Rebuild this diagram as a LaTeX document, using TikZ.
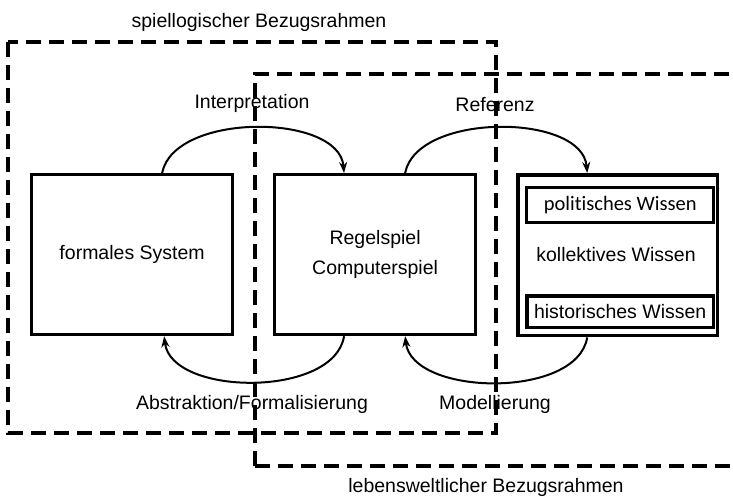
\documentclass[tikz,border=0pt]{standalone}
\usepackage{fontspec}
\setmainfont{Liberation Sans}
\newfontfamily\carlito[Ligatures={NoCommon,NoRequired,NoContextual}]{Carlito}
\usetikzlibrary{arrows.meta,calc}
\begin{document}
\begin{tikzpicture}[x=1pt,y=-1pt,
  frame/.style={line width=3.2pt,dash pattern=on 15pt off 8pt},
  box/.style={draw,line width=3.2pt,minimum width=201pt,minimum height=160pt,inner sep=0pt,anchor=north west,font=\fontsize{19.5}{24}\selectfont,align=center},
  sub/.style={draw,line width=3.4pt,minimum width=187pt,inner sep=0pt,anchor=north west},
  lbl/.style={font=\fontsize{19.5}{23}\selectfont},
  arc/.style={line width=2pt,-{Stealth[length=11pt,width=8pt,inset=3.5pt]}}]
\useasboundingbox (0,0) rectangle (733,497);
% dashed frames
\draw[frame] (8,42) rectangle (496,433);
\draw[frame] (255,466) -- (255,74) -- (740,74);
\draw[frame] (255,466) -- (740,466);
% labels of frames
\node[lbl] (t1) at (259,22) {spiellogischer Bezugsrahmen};
\node[lbl] (t2) at (486,487) {lebensweltlicher Bezugsrahmen};
% boxes
\node[box,fill=white] (fs) at (30,173) {formales System};
\node[box,fill=white] (rs) at (273,173) {Regelspiel\\[6pt]Computerspiel};
\node[box,fill=white,line width=3.4pt,minimum width=200pt,minimum height=161pt] (kw) at (516,173) {};
\draw[line width=1pt] ($(kw.north west)+(3.4,3.4)$) rectangle ($(kw.south east)+(-3.4,-3.4)$);
\node[lbl] (kwt) at (616,255) {kollektives Wissen};
\node[sub,minimum height=35pt,font=\carlito\fontsize{20.5}{24}\selectfont] (pw) at (525,186) {politisches Wissen};
\node[sub,minimum height=32pt,font=\fontsize{19.5}{24}\selectfont] (hw) at (525,294) {historisches Wissen};
\draw[line width=1pt] ($(hw.north west)+(3.4,3.4)$) rectangle ($(hw.south east)+(-3.4,-3.4)$);
% arcs
\draw[arc] ($(fs.north west)!0.647!(fs.north east)$) .. controls +(12,-61) and +(-5,-60) .. ($(rs.north west)!0.348!(rs.north east)$);
\draw[arc] ($(rs.north west)!0.647!(rs.north east)$) .. controls +(12,-61) and +(-5,-60) .. ($(kw.north west)!0.35!(kw.north east)$);
\draw[arc] ($(rs.south west)!0.348!(rs.south east)$) .. controls +(-10,62) and +(7,60) .. ($(fs.south west)!0.657!(fs.south east)$);
\draw[arc] ($(kw.south west)!0.35!(kw.south east)$) .. controls +(-10,62) and +(7,60) .. ($(rs.south west)!0.647!(rs.south east)$);
% arc labels
\node[lbl] (l1) at (252,103) {Interpretation};
\node[lbl] (l2) at (495,105) {Referenz};
\node[lbl] (l3) at (252,404) {Abstraktion/Formalisierung};
\node[lbl] (l4) at (495,404) {Modellierung};
\end{tikzpicture}
\end{document}
